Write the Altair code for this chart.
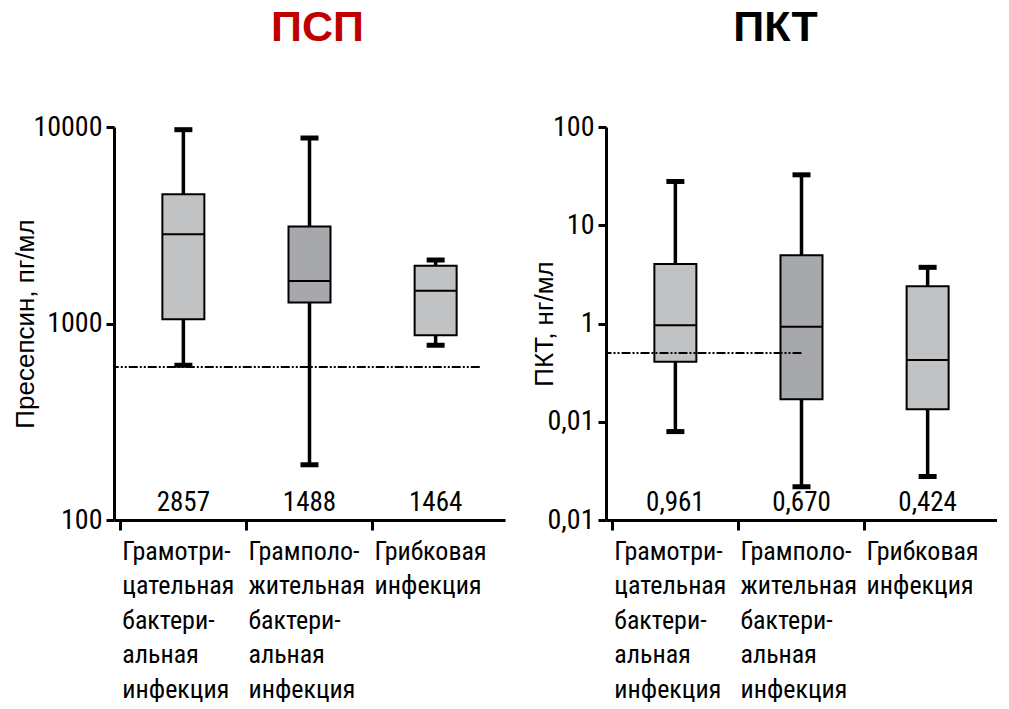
import altair as alt
import pandas as pd

categories = [
    "Грамотри-\nцательная\nбактери-\nальная\nинфекция",
    "Грамполо-\nжительная\nбактери-\nальная\nинфекция",
    "Грибковая\nинфекция",
]
box_colors = ["#C1C2C4", "#A7A8AB", "#C1C2C4"]

# Пресепсин (ПСП), пг/мл
psp_min = [613, 191, 775]
psp_q1 = [1052, 1280, 872]
psp_median = [2845, 1644, 1468]
psp_q3 = [4550, 3115, 1969]
psp_max = [9690, 8790, 2104]
psp_median_labels = ["2857", "1488", "1464"]
psp_threshold = 600
psp_ticks = [100, 1000, 10000]
psp_tick_labels = ["100", "1000", "10000"]

# Прокальцитонин (ПКТ), нг/мл
pct_min = [0.0794, 0.0218, 0.0277]
pct_q1 = [0.408, 0.169, 0.134]
pct_median = [0.962, 0.925, 0.425]
pct_q3 = [4.04, 4.94, 2.39]
pct_max = [27.9, 32.6, 3.73]
pct_median_labels = ["0,961", "0,670", "0,424"]
pct_threshold = 0.5
pct_ticks = [0.01, 0.1, 1, 10, 100]
pct_tick_labels = ["0,01", "0,01", "1", "10", "100"]

NARROW = "Liberation Sans Narrow, Roboto Condensed, Roboto, sans-serif"
PLOT_W = 391
PLOT_H = 393
PAD_OUTER = 0.05
STEP = PLOT_W / (3 + 2 * PAD_OUTER)


def label_expr(values, labels):
    expr = "''"
    for v, l in reversed(list(zip(values, labels))):
        expr = f"(abs(datum.value - {v}) < {v}*0.01 ? '{l}' : {expr})"
    return expr


def panel(mn, q1, med, q3, mx, med_labels, thr, thr_end, thr_band, ticks, tick_labels,
          ytitle, title_pad, title, title_color, title_dx):
    df = pd.DataFrame({"cat": categories, "mn": mn, "q1": q1, "med": med,
                       "q3": q3, "mx": mx, "lab": med_labels})
    xaxis = alt.Axis(
        title=None, labelExpr="split(datum.label, '\\n')", labelAngle=0,
        labelAlign="left", labelBaseline="top", bandPosition=0, labelPadding=8,
        labelFont=NARROW, labelFontSize=26, labelLineHeight=34.5, labelColor="black",
        labelOffset=-STEP / 2 + 2, labelBound=False, labelOverlap=False, labelFlush=False,
        tickSize=10, tickWidth=3, tickColor="black", domainWidth=3, domainColor="black",
    )
    x = alt.X("cat:N", sort=categories,
              scale=alt.Scale(paddingInner=0, paddingOuter=PAD_OUTER), axis=xaxis)
    yscale = alt.Scale(type="log", domain=[ticks[0], ticks[-1]], nice=False)
    yaxis = alt.Axis(
        title=ytitle, values=ticks, labelExpr=label_expr(ticks, tick_labels),
        labelFont=NARROW, labelFontSize=28, labelColor="black", labelPadding=4,
        tickSize=8, tickWidth=3, tickColor="black", domainWidth=3, domainColor="black",
        grid=False, titleFont="Liberation Sans", titleFontSize=26,
        titleFontWeight="normal", titleColor="black", titlePadding=title_pad,
    )
    def Y(f):
        return alt.Y(f, type="quantitative", scale=yscale, axis=yaxis)

    color = alt.Color("cat:N", scale=alt.Scale(domain=categories, range=box_colors), legend=None)
    base = alt.Chart(df)

    whisk_lo = base.mark_rule(color="black", strokeWidth=3.5).encode(x=x, y=Y("mn"), y2="q1")
    whisk_hi = base.mark_rule(color="black", strokeWidth=3.5).encode(x=x, y=Y("q3"), y2="mx")
    cap_lo = base.mark_tick(color="black", thickness=5, size=18, opacity=1).encode(x=x, y=Y("mn"))
    cap_hi = base.mark_tick(color="black", thickness=5, size=18, opacity=1).encode(x=x, y=Y("mx"))
    box = base.mark_bar(width=42, stroke="black", strokeWidth=2, opacity=1).encode(
        x=x, y=Y("q1"), y2="q3", color=color)
    median = base.mark_tick(color="black", thickness=2, size=42, opacity=1).encode(x=x, y=Y("med"))
    labels = base.mark_text(font=NARROW, fontSize=27, baseline="bottom", dy=-3,
                            color="black").encode(x=x, y=alt.value(PLOT_H), text="lab:N")

    thr_df = pd.DataFrame({"thr": [thr], "end": [thr_end]})
    rule = alt.Chart(thr_df).mark_rule(
        color="black", strokeWidth=2, strokeDash=[9, 2, 2, 2, 2, 2]
    ).encode(x=alt.X("end:N", bandPosition=thr_band), x2=alt.value(0), y=Y("thr"))

    return alt.layer(whisk_lo, whisk_hi, cap_lo, cap_hi, box, median, rule, labels).properties(
        width=PLOT_W, height=PLOT_H,
        title=alt.TitleParams(title, color=title_color, fontSize=43, fontWeight="bold",
                              font="Liberation Sans", anchor="middle", dx=title_dx, offset=63),
    )


left = panel(psp_min, psp_q1, psp_median, psp_q3, psp_max, psp_median_labels,
             psp_threshold, categories[2], 0.85, psp_ticks, psp_tick_labels,
             "Пресепсин, пг/мл", -6, "ПСП", "#C00000", 8)
right = panel(pct_min, pct_q1, pct_median, pct_q3, pct_max, pct_median_labels,
              pct_threshold, categories[1], 0.5, pct_ticks, pct_tick_labels,
              "ПКТ, нг/мл", -10, "ПКТ", "black", -26)

chart = alt.hconcat(left, right, spacing=26).properties(
    padding={"left": 12, "top": 7, "right": 0, "bottom": 0},
    background="white",
).configure_view(stroke=None)

chart.save("out.html", embed_options={"renderer": "svg", "actions": False})
